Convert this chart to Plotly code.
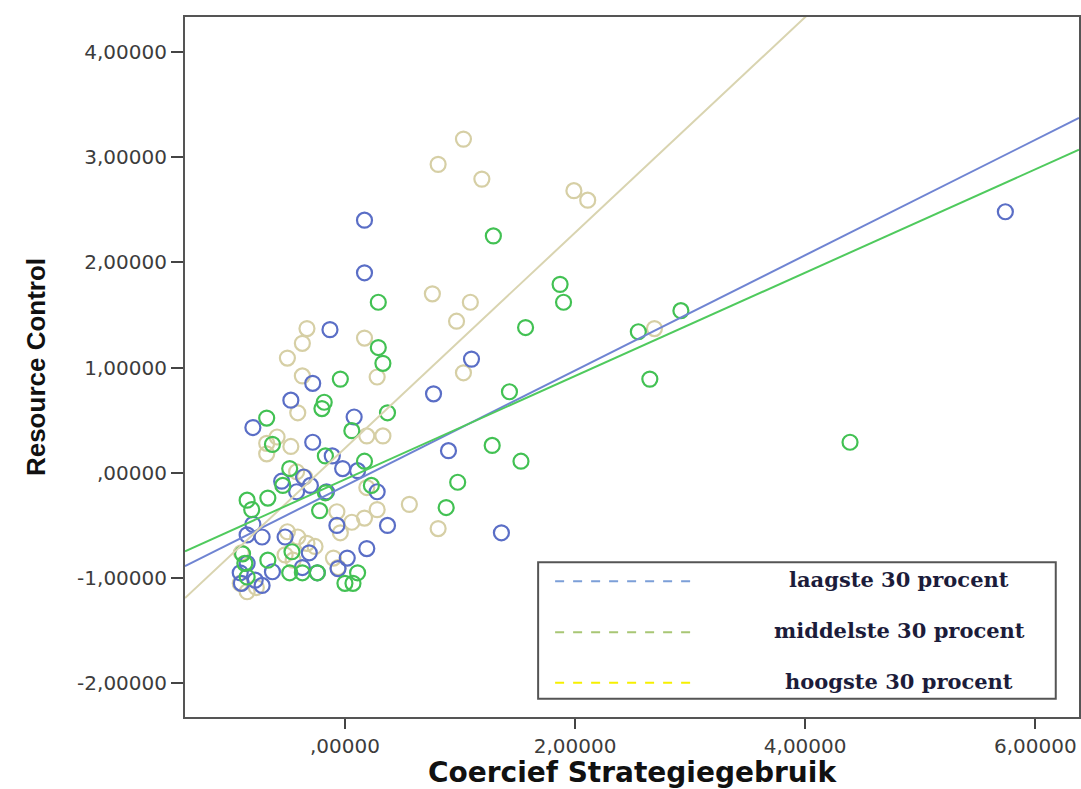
import plotly.graph_objects as go
import numpy as np

# ---- data ----
blue_x = [0.17, 0.17, -0.13, 1.10, -0.28, 0.77, -0.47, 0.08, -0.80, -0.28, 0.90, -0.11, -0.02, 0.11,
          -0.55, -0.36, -0.30, -0.42, -0.16, 0.28, -0.07, 0.37, -0.80, -0.85, -0.72, -0.52, 0.19, -0.31,
          0.02, -0.85, -0.37, -0.63, -0.24, -0.06, -0.91, -0.78, -0.72, -0.90, 5.74, 1.36]
blue_y = [2.40, 1.90, 1.36, 1.08, 0.85, 0.75, 0.69, 0.53, 0.43, 0.29, 0.21, 0.16, 0.04, 0.02,
          -0.08, -0.04, -0.12, -0.18, -0.18, -0.18, -0.50, -0.50, -0.49, -0.59, -0.61, -0.61, -0.72, -0.76,
          -0.81, -0.86, -0.90, -0.94, -0.95, -0.91, -0.95, -1.02, -1.07, -1.05, 2.48, -0.57]

green_x = [0.29, 0.29, 0.33, -0.04, -0.18, -0.20, 0.37, -0.68, 0.06, -0.63, -0.17, 0.17, -0.48, -0.54,
           0.23, -0.85, -0.67, -0.81, -0.22, -0.17, -0.46, -0.89, -0.87, -0.67, -0.48, -0.37, -0.24, 0.11,
           0.00, 0.07, -0.85, 1.29, 1.87, 1.90, 1.57, 2.55, 2.92, 2.65, 1.43, 4.39, 1.28, 1.53, 0.98, 0.88]
green_y = [1.62, 1.19, 1.04, 0.89, 0.67, 0.61, 0.57, 0.52, 0.40, 0.27, 0.16, 0.11, 0.04, -0.12,
           -0.12, -0.26, -0.24, -0.35, -0.36, -0.19, -0.75, -0.77, -0.86, -0.83, -0.95, -0.95, -0.95, -0.95,
           -1.05, -1.05, -0.99, 2.25, 1.79, 1.62, 1.38, 1.34, 1.54, 0.89, 0.77, 0.29, 0.26, 0.11, -0.09, -0.33]

tan_x = [0.76, 1.09, 0.97, -0.33, -0.37, -0.50, 0.17, -0.37, 0.28, 1.03, -0.41, -0.59, -0.68, -0.47,
         -0.68, 0.19, 0.33, -0.42, -0.35, -0.07, 0.06, 0.17, 0.28, 0.56, 0.81, -0.04, -0.50, -0.41,
         -0.33, -0.26, -0.52, -0.45, -0.10, -0.06, -0.90, -0.91, -0.85, -0.77, 0.19, 1.03, 0.81, 1.19,
         1.99, 2.11, 2.69]
tan_y = [1.70, 1.62, 1.44, 1.37, 1.23, 1.09, 1.28, 0.92, 0.91, 0.95, 0.57, 0.34, 0.28, 0.25,
         0.18, 0.35, 0.35, 0.01, -0.04, -0.37, -0.47, -0.43, -0.35, -0.30, -0.53, -0.57, -0.56, -0.61,
         -0.67, -0.70, -0.78, -0.83, -0.81, -0.90, -0.76, -1.05, -1.13, -1.09, -0.14, 3.17, 2.93, 2.79,
         2.68, 2.59, 1.37]

# fit lines (slope, intercept) for each group: blue, tan, green
fit_slope = [0.548, 1.024, 0.491]
fit_intercept = [-0.125, 0.233, -0.063]

x_range = [-1.39, 6.38]
y_range = [-2.32, 4.33]

x_tickvals = [0, 2, 4, 6]
x_ticktext = [",00000", "2,00000", "4,00000", "6,00000"]
y_tickvals = [-2, -1, 0, 1, 2, 3, 4]
y_ticktext = ["-2,00000", "-1,00000", ",00000", "1,00000", "2,00000", "3,00000", "4,00000"]

legend_labels = ["laagste 30 procent", "middelste 30 procent", "hoogste 30 procent"]

# ---- styles ----
c_blue, c_green, c_tan = "#5a6ec6", "#42c153", "#d6cfa5"
l_blue, l_green, l_tan = "#6f84d2", "#4fca5d", "#d9d4b0"
legend_colors = ["#7c9fd8", "#a8c674", "#f6f000"]

fig = go.Figure()

def add_points(xs, ys, col):
    fig.add_trace(go.Scatter(
        x=xs, y=ys, mode="markers",
        marker=dict(symbol="circle-open", size=15, color=col, line=dict(width=2.2, color=col)),
        showlegend=False, hoverinfo="skip"))

add_points(tan_x, tan_y, c_tan)
add_points(blue_x, blue_y, c_blue)
add_points(green_x, green_y, c_green)

xx = np.array(x_range)
for s, b, col in zip(fit_slope, fit_intercept, [l_blue, l_tan, l_green]):
    fig.add_trace(go.Scatter(x=xx, y=s * xx + b, mode="lines",
                             line=dict(color=col, width=2), showlegend=False, hoverinfo="skip"))

# ---- custom legend box ----
shapes = [dict(type="rect", xref="paper", yref="paper", x0=0.395, x1=0.974, y0=0.026, y1=0.221,
               line=dict(color="#555555", width=2), fillcolor="white", layer="above")]
ann = []
leg_y = [0.194, 0.121, 0.049]
for lab, col, yy in zip(legend_labels, legend_colors, leg_y):
    shapes.append(dict(type="line", xref="paper", yref="paper", x0=0.414, x1=0.568, y0=yy, y1=yy,
                       line=dict(color=col, width=2, dash="dash"), layer="above"))
    ann.append(dict(xref="paper", yref="paper", x=0.799, y=yy + 0.002, text=lab, showarrow=False,
                    xanchor="center", yanchor="middle",
                    font=dict(family="DejaVu Serif", size=21, color="#1c1c3a", weight="bold")))

axis_common = dict(showgrid=False, zeroline=False, showline=True, linecolor="#555555", linewidth=2,
                   mirror=True, ticks="outside", tickcolor="#444444", tickwidth=2, automargin=False,
                   tickfont=dict(family="DejaVu Sans", size=20, color="#3c3c3c"))

fig.update_layout(
    width=1081, height=789,
    margin=dict(l=185, r=2, t=17, b=72),
    paper_bgcolor="white", plot_bgcolor="white",
    shapes=shapes, annotations=ann,
    xaxis=dict(range=x_range, tickvals=x_tickvals, ticktext=x_ticktext, ticklen=10,
               title=dict(text="Coercief Strategiegebruik", standoff=15,
                          font=dict(family="DejaVu Sans", size=28, color="#111111", weight="bold")),
               **axis_common),
    yaxis=dict(range=y_range, tickvals=y_tickvals, ticktext=y_ticktext, ticklen=12,
               title=dict(text="Resource Control", standoff=24,
                          font=dict(family="Liberation Sans Narrow, Liberation Sans", size=26,
                                    color="#111111", weight="bold")),
               **axis_common),
)

fig.write_html("out.html", config={"displayModeBar": False},
               post_script="document.body.style.margin='0';document.body.style.overflow='hidden';")
